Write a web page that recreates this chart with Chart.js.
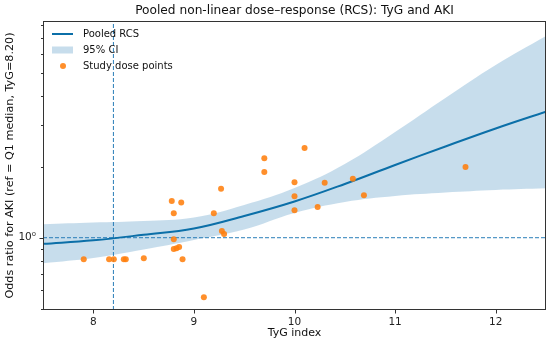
<!DOCTYPE html>
<html>
<head>
<meta charset="utf-8">
<script src="https://cdn.jsdelivr.net/npm/chart.js@4"></script>
<style>
  html, body { margin: 0; padding: 0; background: #fff; }
  #wrap { width: 550px; height: 348px; }
</style>
</head>
<body>
<div id="wrap"><canvas id="chart" width="550" height="348"></canvas></div>
<script>
// spline (TyG grid, pooled OR and 95% CI)
const tygGrid  = [7.5, 8.0, 8.5, 9.0, 9.5, 10.0, 10.5, 11.0, 11.5, 12.0, 12.5];
const orPooled = [0.942, 0.975, 1.029, 1.094, 1.236, 1.424, 1.689, 2.033, 2.435, 2.902, 3.420];
const ciUpper  = [1.141, 1.160, 1.177, 1.218, 1.376, 1.624, 2.053, 2.805, 3.908, 5.393, 7.155];
const ciLower  = [0.779, 0.820, 0.891, 0.978, 1.083, 1.273, 1.417, 1.502, 1.554, 1.593, 1.619];

// study dose points
const studyTyG = [7.905, 8.157, 8.204, 8.303, 8.323, 8.502, 8.78, 8.874, 8.80, 8.80, 8.80, 8.827, 8.853, 8.887, 9.099,
                  9.198, 9.27, 9.278, 9.30, 9.70, 9.70, 10.0, 10.0, 10.0, 10.10, 10.23, 10.30, 10.58, 10.69, 11.70];
const studyOR  = [0.81, 0.81, 0.81, 0.81, 0.81, 0.818, 1.43, 1.41, 1.27, 0.984, 0.896, 0.902, 0.913, 0.81, 0.559,
                  1.269, 1.613, 1.067, 1.037, 2.17, 1.90, 1.716, 1.50, 1.306, 2.40, 1.349, 1.71, 1.778, 1.512, 1.993];

const xTicks = [8, 9, 10, 11, 12];
const yTicks = [0.5, 0.6, 0.7, 0.8, 0.9, 1, 2, 3, 4, 5, 6, 7, 8];
const yMajor = [1];
const xMin = 7.5, xMax = 12.5, yMin = 0.494, yMax = 8.28;
const refTyG = 8.2, refOR = 1;

const titleText = "Pooled non-linear dose\u2013response (RCS): TyG and AKI";
const xTitle = "TyG index";
const yTitle = "Odds ratio for AKI (ref = Q1 median, TyG=8.20)";
const legendLabels = ["Pooled RCS", "95% CI", "Study dose points"];

const lineBlue = "#0b6fa8";
const bandBlue = "rgba(31,119,180,0.25)";
const refBlue = "rgba(31,119,180,0.95)";
const orange = "rgba(255,127,14,0.88)";
const FONT = "'DejaVu Sans', sans-serif";

const pts = (xs, ys) => xs.map((x, i) => ({ x: x, y: ys[i] }));

const decor = {
  id: "decor",
  afterDraw(chart) {
    const ctx = chart.ctx, a = chart.chartArea;
    const xs = chart.scales.x, ys = chart.scales.y;
    ctx.save();
    // frame
    ctx.strokeStyle = "#333";
    ctx.lineWidth = 1;
    ctx.strokeRect(Math.round(a.left) + 0.5, Math.round(a.top) + 0.5,
                   Math.round(a.right - a.left) - 1, Math.round(a.bottom - a.top) - 1);
    // ticks
    ctx.beginPath();
    xTicks.forEach(v => {
      const px = Math.round(xs.getPixelForValue(v)) + 0.5;
      ctx.moveTo(px, a.bottom); ctx.lineTo(px, a.bottom + 3.5);
    });
    yTicks.forEach(v => {
      const py = Math.round(ys.getPixelForValue(v)) + 0.5;
      const len = yMajor.includes(v) ? 3.5 : 2;
      ctx.moveTo(a.left, py); ctx.lineTo(a.left - len, py);
    });
    ctx.stroke();
    // titles
    ctx.fillStyle = "#111";
    ctx.textAlign = "center";
    ctx.textBaseline = "middle";
    ctx.font = "12.2px " + FONT;
    ctx.fillText(titleText, (a.left + a.right) / 2, 11);
    ctx.font = "11px " + FONT;
    ctx.fillText(xTitle, (a.left + a.right) / 2, 333);
    ctx.save();
    ctx.translate(10, (a.top + a.bottom) / 2);
    ctx.rotate(-Math.PI / 2);
    ctx.font = "11.2px " + FONT;
    ctx.fillText(yTitle, 0, 0);
    ctx.restore();
    // legend
    ctx.font = "10px " + FONT;
    ctx.textAlign = "left";
    const lx = 52, tx = 83, rows = [34, 50, 66];
    ctx.strokeStyle = lineBlue; ctx.lineWidth = 2;
    ctx.beginPath(); ctx.moveTo(lx, rows[0]); ctx.lineTo(lx + 21, rows[0]); ctx.stroke();
    ctx.fillStyle = bandBlue;
    ctx.fillRect(lx, rows[1] - 3.5, 21, 7);
    ctx.fillStyle = orange;
    ctx.beginPath(); ctx.arc(lx + 11, rows[2], 3, 0, Math.PI * 2); ctx.fill();
    ctx.fillStyle = "#111";
    legendLabels.forEach((t, i) => ctx.fillText(t, tx, rows[i]));
    ctx.restore();
  }
};

new Chart(document.getElementById("chart"), {
  type: "scatter",
  data: {
    datasets: [
      { label: legendLabels[2], data: pts(studyTyG, studyOR), order: 0,
        backgroundColor: orange, borderWidth: 0, pointRadius: 3, pointHoverRadius: 3 },
      { label: legendLabels[0], data: pts(tygGrid, orPooled), order: 1, showLine: true,
        borderColor: lineBlue, borderWidth: 2, pointRadius: 0, tension: 0.4 },
      { label: "ref x", data: [{ x: refTyG, y: yMin }, { x: refTyG, y: yMax }], order: 2, showLine: true,
        borderColor: refBlue, borderWidth: 1, borderDash: [4, 2], pointRadius: 0 },
      { label: "ref y", data: [{ x: xMin, y: refOR }, { x: xMax, y: refOR }], order: 2, showLine: true,
        borderColor: refBlue, borderWidth: 1, borderDash: [4, 2], pointRadius: 0 },
      { label: legendLabels[1], data: pts(tygGrid, ciUpper), order: 3, showLine: true, fill: "+1",
        backgroundColor: bandBlue, borderWidth: 0, pointRadius: 0, tension: 0.4 },
      { label: "lower", data: pts(tygGrid, ciLower), order: 4, showLine: true,
        borderWidth: 0, pointRadius: 0, tension: 0.4 }
    ]
  },
  options: {
    responsive: false,
    animation: false,
    layout: { padding: { left: 0, top: 21, right: 4, bottom: 0 } },
    plugins: { legend: { display: false }, title: { display: false }, tooltip: { enabled: false } },
    scales: {
      x: {
        type: "linear", min: xMin, max: xMax,
        afterBuildTicks: s => { s.ticks = xTicks.map(v => ({ value: v })); },
        afterFit: s => { s.height = 38; },
        grid: { display: true, drawOnChartArea: false, color: "rgba(0,0,0,0)", tickLength: 4 },
        border: { display: false },
        ticks: { color: "#222", font: { family: FONT, size: 10.5 }, padding: 2, maxRotation: 0 }
      },
      y: {
        type: "logarithmic", min: yMin, max: yMax,
        afterBuildTicks: s => { s.ticks = yTicks.map(v => ({ value: v })); },
        afterFit: s => { s.width = 43; },
        grid: { display: true, drawOnChartArea: false, color: "rgba(0,0,0,0)", tickLength: 4 },
        border: { display: false },
        ticks: { color: "#222", font: { family: FONT, size: 10.5 }, padding: 3, autoSkip: false,
                 callback: v => (yMajor.includes(v) ? "10\u2070" : "") }
      }
    }
  },
  plugins: [decor]
});
</script>
</body>
</html>
